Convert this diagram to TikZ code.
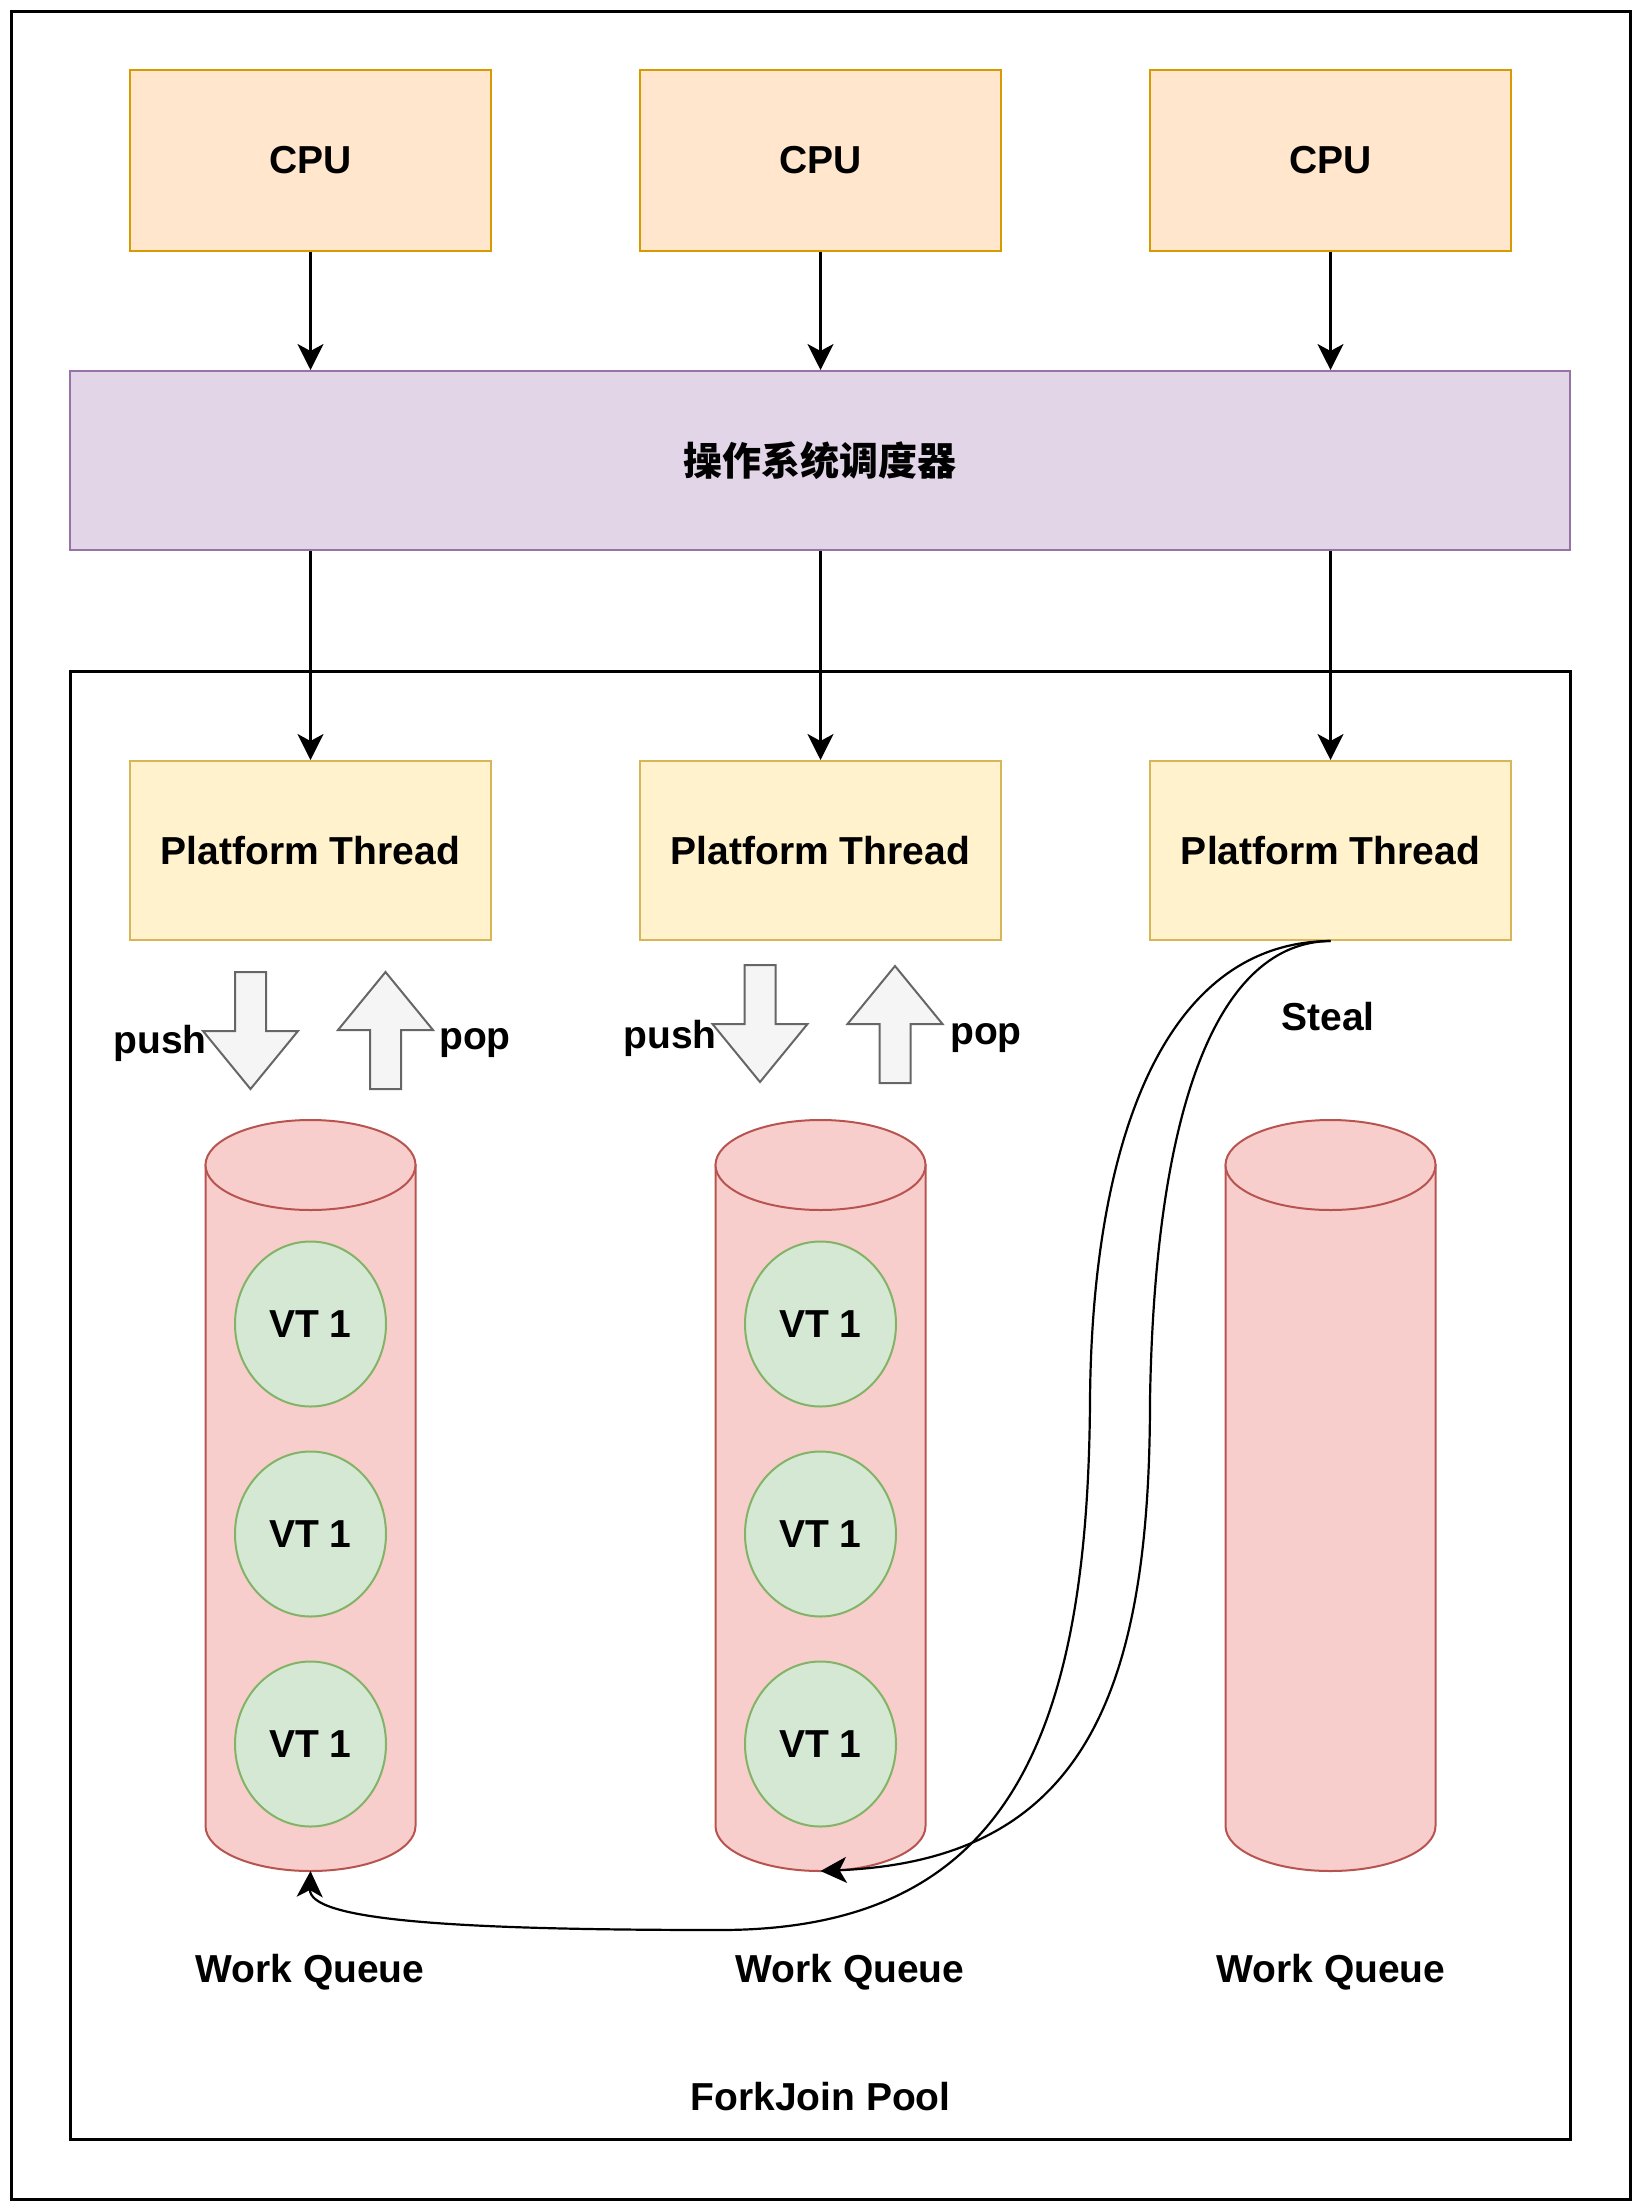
\documentclass[tikz,border=0pt]{standalone}
\usepackage{fontspec}
\setmainfont{Liberation Sans}
\newfontfamily\cjk{Noto Sans CJK SC}
\usetikzlibrary{arrows.meta,positioning,shapes.geometric}
\definecolor{cpufill}{HTML}{FFE6CC}
\definecolor{cpuline}{HTML}{D79B00}
\definecolor{schedfill}{HTML}{E1D5E7}
\definecolor{schedline}{HTML}{9673A6}
\definecolor{threadfill}{HTML}{FFF2CC}
\definecolor{threadline}{HTML}{D6B656}
\definecolor{queuefill}{HTML}{F8CECC}
\definecolor{queueline}{HTML}{B85450}
\definecolor{vtfill}{HTML}{D5E8D4}
\definecolor{vtline}{HTML}{82B366}
\definecolor{blockfill}{HTML}{F5F5F5}
\definecolor{blockline}{HTML}{666666}
\tikzset{
    frame/.style={draw=black,line width=1.5pt},
    cpu box/.style={rectangle,draw=cpuline,fill=cpufill,line width=1pt,minimum width=180.5pt,minimum height=90.5pt},
    sched box/.style={rectangle,draw=schedline,fill=schedfill,line width=1pt,minimum width=750pt,minimum height=89.5pt},
    thread box/.style={rectangle,draw=threadline,fill=threadfill,line width=1pt,minimum width=180.5pt,minimum height=89.5pt},
    queue/.style={draw=queueline,fill=queuefill,line width=1pt},
    vt/.style={ellipse,draw=vtline,fill=vtfill,line width=1pt,minimum width=75.5pt,minimum height=82.5pt,inner sep=0pt},
    block arrow/.style={draw=blockline,fill=blockfill,line width=1pt,line join=miter},
    arr/.style={-{Stealth[length=13pt,width=13pt,inset=3.5pt]},line width=1.1pt},
}
\tikzstyle{every node}=[font=\fontsize{19.5pt}{23pt}\selectfont\bfseries]

\begin{document}
\begin{tikzpicture}[x=0.5pt,y=0.5pt]
    \useasboundingbox (0,0) rectangle (1641,-2211);
    \draw[frame] (11,-11) rectangle (1630,-2199);
    \draw[frame] (70,-671) rectangle (1570,-2139);

    \foreach \i/\x in {1/310.5,2/820.5,3/1330.5} {
        \node[cpu box] (cpu\i) at (\x,-160.5) {CPU};
        \node[thread box] (pt\i) at (\x,-850.5) {Platform Thread};
        % work queue as a cylinder
        \draw[queue] (\x-105,-1165) -- (\x-105,-1826)
            arc[start angle=180,end angle=360,x radius=105,y radius=45]
            -- (\x+105,-1165) -- cycle;
        \draw[queue] (\x,-1165) ellipse[x radius=105,y radius=45];
        \coordinate (q\i) at (\x,-1871);
    }
    \node[sched box] (sched) at (820,-460.5) {\cjk 操作系统调度器};

    \foreach \i in {1,2,3} {
        \draw[arr] (cpu\i.south) -- (cpu\i.south |- sched.north);
        \draw[arr] (sched.south -| pt\i.north) -- (pt\i.north);
    }

    \foreach \i/\x in {1/310.5,2/820.5} {
        \node[vt] (vt\i a) at (\x,-1324) {VT 1};
        \node[vt] (vt\i b) at (\x,-1534) {VT 1};
        \node[vt] (vt\i c) at (\x,-1744) {VT 1};
    }

    % push / pop block arrows
    \foreach \cx/\ty/\dir in {250.5/972/1,760/965/1,385.5/1089/-1,895/1083/-1} {
        \draw[block arrow,shift={(\cx,-\ty)},yscale=\dir]
            (-15.5,0) -- (15.5,0) -- (15.5,-59) -- (47.5,-59) -- (0,-117)
            -- (-47.5,-59) -- (-15.5,-59) -- cycle;
    }
    \node (push1) at (160,-1043) {push};
    \node (pop1) at (475,-1043) {pop};
    \node (push2) at (670,-1038) {push};
    \node (pop2) at (986,-1038) {pop};
    \node (steal) at (1328,-1017) {Steal};

    % stealing from the other queues
    \draw[arr] (pt3.south) .. controls (1160,-942) and (1092,-1150) .. (1090,-1400)
        .. controls (1088,-1750) and (1000,-1930) .. (720,-1930)
        .. controls (450,-1930) and (309,-1920) .. (q1);
    \draw[arr] (pt3.south) .. controls (1220,-942) and (1155,-1100) .. (1150,-1400)
        .. controls (1150,-1700) and (1080,-1860) .. (q2);

    \node (wq1) at (310,-1972) {Work Queue};
    \node (wq2) at (850,-1972) {Work Queue};
    \node (wq3) at (1331,-1972) {Work Queue};
    \node (pool) at (820.5,-2097) {ForkJoin Pool};
\end{tikzpicture}
\end{document}
